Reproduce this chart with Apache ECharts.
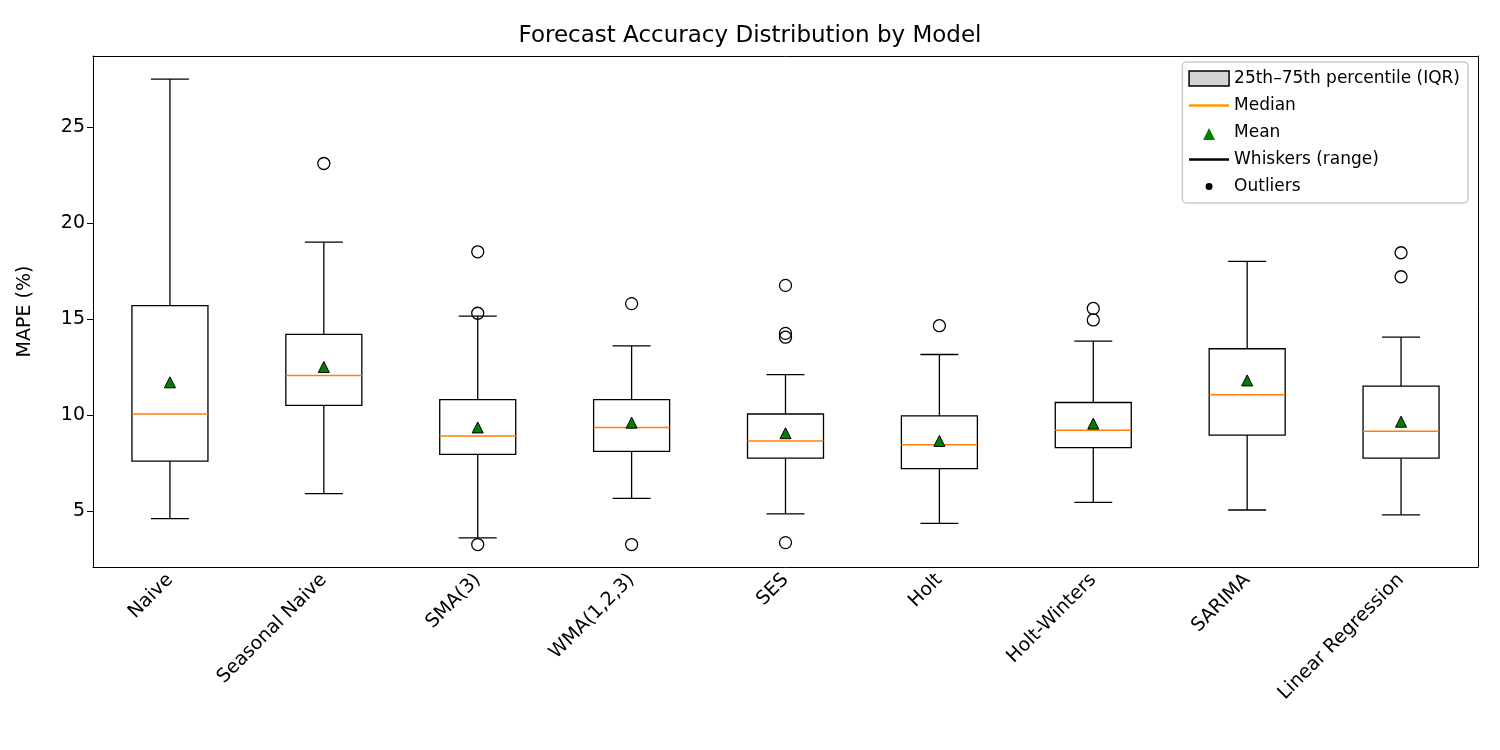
<!DOCTYPE html>
<html><head><meta charset="utf-8">
<script src="https://cdn.jsdelivr.net/npm/echarts@6/dist/echarts.min.js"></script>
<style>html,body{margin:0;padding:0;background:#fff}#c{width:1500px;height:750px}</style>
</head><body><div id="c"></div>
<script>
const categories = ['Naive','Seasonal Naive','SMA(3)','WMA(1,2,3)','SES','Holt','Holt-Winters','SARIMA','Linear Regression'];
// [low whisker, Q1, median, Q3, high whisker]
const boxValues = [
  [4.6, 7.6, 10.05, 15.7, 27.5],
  [5.9, 10.5, 12.05, 14.2, 19.0],
  [3.6, 7.95, 8.9, 10.8, 15.15],
  [5.65, 8.1, 9.35, 10.8, 13.6],
  [4.85, 7.75, 8.65, 10.05, 12.1],
  [4.35, 7.2, 8.45, 9.95, 13.15],
  [5.45, 8.3, 9.2, 10.65, 13.85],
  [5.05, 8.95, 11.05, 13.45, 18.0],
  [4.8, 7.75, 9.15, 11.5, 14.05]
];
const means = [11.7, 12.5, 9.35, 9.6, 9.05, 8.65, 9.55, 11.8, 9.65];
const outliers = [
  [1, 23.1],
  [2, 18.5], [2, 15.3], [2, 3.25],
  [3, 15.8], [3, 3.25],
  [4, 16.75], [4, 14.25], [4, 14.05], [4, 3.35],
  [5, 14.65],
  [6, 15.55], [6, 14.95],
  [7, 27.1], [7, 24.6], [7, 22.9],
  [8, 18.45], [8, 17.2]
];
const yTicks = [5, 10, 15, 20, 25];

const font = 'DejaVu Sans';
const chart = echarts.init(document.getElementById('c'));
const BW = 76, CAP = 38;
const lineIcon = 'path://M0,0L40,0L40,2.5L0,2.5Z';
chart.setOption({
  animation: false,
  textStyle: {fontFamily: font},
  title: {text: 'Forecast Accuracy Distribution by Model', left: 'center', top: 20,
    textStyle: {fontFamily: font, fontSize: 23, fontWeight: 'normal', color: '#000'}},
  grid: {left: 93, right: 22, top: 56, bottom: 183},
  xAxis: [{type: 'category', data: categories, boundaryGap: true,
    axisLine: {lineStyle: {color: '#000'}}, axisTick: {alignWithLabel: true, length: 6, lineStyle: {color: '#000'}},
    axisLabel: {rotate: 45, color: '#000', fontSize: 19, fontFamily: font, interval: 0, margin: 10},
    splitLine: {show: false}},
    {type: 'category', data: categories, position: 'top', axisLine: {lineStyle: {color: '#000'}},
     axisTick: {show: false}, axisLabel: {show: false}}],
  yAxis: [{type: 'value', min: 2.08, max: 28.7, name: 'MAPE (%)', nameLocation: 'middle', nameGap: 58,
    nameTextStyle: {color: '#000', fontSize: 19, fontFamily: font},
    axisLine: {show: true, lineStyle: {color: '#000'}},
    axisTick: {show: true, length: 6, customValues: yTicks, lineStyle: {color: '#000'}},
    axisLabel: {color: '#000', fontSize: 19, fontFamily: font, customValues: yTicks, margin: 8},
    splitLine: {show: false}},
    {type: 'value', min: 2.08, max: 28.7, position: 'right', axisLine: {show: true, lineStyle: {color: '#000'}},
     axisTick: {show: false}, axisLabel: {show: false}, splitLine: {show: false}}],
  legend: {orient: 'vertical', right: 32, top: 62, itemGap: 10, itemWidth: 40, itemHeight: 15,
    backgroundColor: '#fff', borderColor: '#ccc', borderWidth: 1.5, borderRadius: 4, padding: [8, 8, 8, 6],
    textStyle: {fontFamily: font, fontSize: 17, color: '#000'},
    data: [
      {name: '25th–75th percentile (IQR)', icon: 'rect', itemStyle: {color: '#d3d3d3', borderColor: '#000', borderWidth: 1.5}},
      {name: 'Median', icon: lineIcon, itemStyle: {color: '#ff9900', borderWidth: 0}},
      {name: 'Mean', icon: 'path://M0,0L0.01,0L0.01,0.01Z M40,15L40.01,15L40.01,15.01Z M14,15L20,3L26,15Z', itemStyle: {color: 'green', borderWidth: 0}},
      {name: 'Whiskers (range)', icon: lineIcon, itemStyle: {color: '#000', borderWidth: 0}},
      {name: 'Outliers', icon: 'path://M0,0L0.01,0L0.01,0.01Z M40,15L40.01,15L40.01,15.01Z M16.5,7.5a3.5,3.5 0 1,0 7,0a3.5,3.5 0 1,0 -7,0Z', itemStyle: {color: '#000', borderWidth: 0}}
    ]},
  series: [
    {name: '25th–75th percentile (IQR)', type: 'custom', z: 2, data: boxValues.map((b, i) => [i].concat(b)),
      renderItem: (params, api) => {
        const x = api.value(0);
        const lo = api.coord([x, api.value(1)]), q1 = api.coord([x, api.value(2)]),
              q3 = api.coord([x, api.value(4)]), hi = api.coord([x, api.value(5)]);
        const cx = lo[0];
        const st = {stroke: '#000', lineWidth: 1.3, fill: null};
        return {type: 'group', children: [
          {type: 'line', shape: {x1: cx, y1: lo[1], x2: cx, y2: q1[1]}, style: st},
          {type: 'line', shape: {x1: cx, y1: q3[1], x2: cx, y2: hi[1]}, style: st},
          {type: 'line', shape: {x1: cx - CAP / 2, y1: lo[1], x2: cx + CAP / 2, y2: lo[1]}, style: st},
          {type: 'line', shape: {x1: cx - CAP / 2, y1: hi[1], x2: cx + CAP / 2, y2: hi[1]}, style: st},
          {type: 'rect', shape: {x: cx - BW / 2, y: q3[1], width: BW, height: q1[1] - q3[1]},
            style: {stroke: '#000', lineWidth: 1.3, fill: '#fff'}}
        ]};
      }},
    {name: 'Median', type: 'custom', z: 5, data: boxValues.map((b, i) => [i, b[2]]),
      renderItem: (params, api) => {
        const p = api.coord([api.value(0), api.value(1)]);
        return {type: 'line', shape: {x1: p[0] - BW / 2, y1: p[1], x2: p[0] + BW / 2, y2: p[1]},
          style: {stroke: '#ff7f0e', lineWidth: 1.5}};
      }},
    {name: 'Mean', type: 'scatter', z: 6, symbol: 'triangle', symbolSize: 11,
      data: means.map((m, i) => [i, m]), itemStyle: {color: 'green', borderColor: '#000', borderWidth: 1, opacity: 1}},
    {name: 'Whiskers (range)', type: 'line', data: []},
    {name: 'Outliers', type: 'scatter', z: 3, symbol: 'circle', symbolSize: 12, data: outliers,
      itemStyle: {color: 'rgba(0,0,0,0)', borderColor: '#000', borderWidth: 1.3, opacity: 1}}
  ]
});
</script></body></html>
